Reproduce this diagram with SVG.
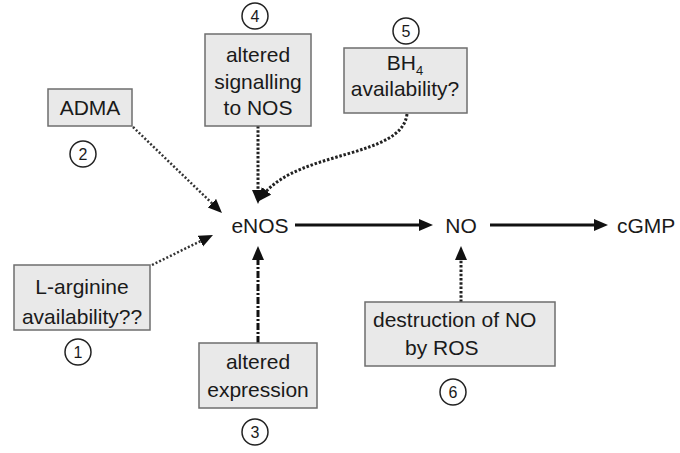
<svg xmlns="http://www.w3.org/2000/svg" width="680" height="453" viewBox="0 0 680 453">
<defs>
<marker id="ah" markerUnits="userSpaceOnUse" markerWidth="16" markerHeight="14" refX="4" refY="6" orient="auto">
<path d="M0,0 L14,6 L0,12 z" fill="#111"/>
</marker>
<style>
text{font-family:"Liberation Sans",Arial,sans-serif;font-size:21px;fill:#1a1a1a;text-anchor:middle}
.box{fill:#e9e9e9;stroke:#6e6e6e;stroke-width:1.5}
.num circle{fill:#fff;stroke:#222;stroke-width:1.5}
.num text{font-size:16px}
.solid{fill:none;stroke:#111;stroke-width:3}
.dot{fill:none;stroke:#333;stroke-width:2.5;stroke-dasharray:2 2}
.dot2{fill:none;stroke:#222;stroke-width:3;stroke-dasharray:2.5 1.8}
.dashdot{fill:none;stroke:#111;stroke-width:3;stroke-dasharray:7 2 2 2}
</style>
</defs>
<rect width="680" height="453" fill="#fff"/>
<g id="connectors">
<path class="dot" d="M133,127 L214.8,206" marker-end="url(#ah)"/>
<path class="dot2" d="M258,126 L258,194" marker-end="url(#ah)"/>
<path class="dot2" d="M407,114 C402,158 300,150 264,194" marker-end="url(#ah)"/>
<path class="dot" d="M152,265 L204,239.4" marker-end="url(#ah)"/>
<path class="dashdot" d="M258,343 L258,256" marker-end="url(#ah)"/>
<path class="solid" d="M295,225 L423,225" marker-end="url(#ah)"/>
<path class="solid" d="M490,225 L598,225" marker-end="url(#ah)"/>
<path class="dot2" d="M461,302 L461,256" marker-end="url(#ah)"/>
</g>
<g id="eNOS"><text x="260" y="233">eNOS</text></g>
<g id="NO"><text x="461" y="233">NO</text></g>
<g id="cGMP"><text x="617" y="233" style="text-anchor:start">cGMP</text></g>
<g id="n1">
<rect class="box" x="14" y="265" width="136" height="65"/>
<text x="82" y="294">L-arginine</text>
<text x="82" y="324">availability??</text>
<g class="num"><circle cx="78" cy="352" r="13"/><text x="78" y="358">1</text></g>
</g>
<g id="n2">
<rect class="box" x="48" y="89" width="84" height="37"/>
<text x="90" y="115">ADMA</text>
<g class="num"><circle cx="83" cy="154" r="13"/><text x="83" y="160">2</text></g>
</g>
<g id="n3">
<rect class="box" x="199" y="343" width="118" height="65"/>
<text x="258" y="369">altered</text>
<text x="258" y="397">expression</text>
<g class="num"><circle cx="255" cy="432" r="13"/><text x="255" y="438">3</text></g>
</g>
<g id="n4">
<rect class="box" x="205" y="34" width="106" height="92"/>
<text x="258" y="62">altered</text>
<text x="258" y="89">signalling</text>
<text x="258" y="115">to NOS</text>
<g class="num"><circle cx="255" cy="16" r="13"/><text x="255" y="22">4</text></g>
</g>
<g id="n5">
<rect class="box" x="344" y="48" width="123" height="65"/>
<text x="405" y="70">BH<tspan font-size="13" dy="5">4</tspan></text>
<text x="405" y="96">availability?</text>
<g class="num"><circle cx="406" cy="31" r="13"/><text x="406" y="37">5</text></g>
</g>
<g id="n6">
<rect class="box" x="365" y="302" width="190" height="64"/>
<text x="373" y="327" style="text-anchor:start">destruction of NO</text>
<text x="405" y="355" style="text-anchor:start">by ROS</text>
<g class="num"><circle cx="453" cy="392" r="13"/><text x="453" y="398">6</text></g>
</g>
</svg>
